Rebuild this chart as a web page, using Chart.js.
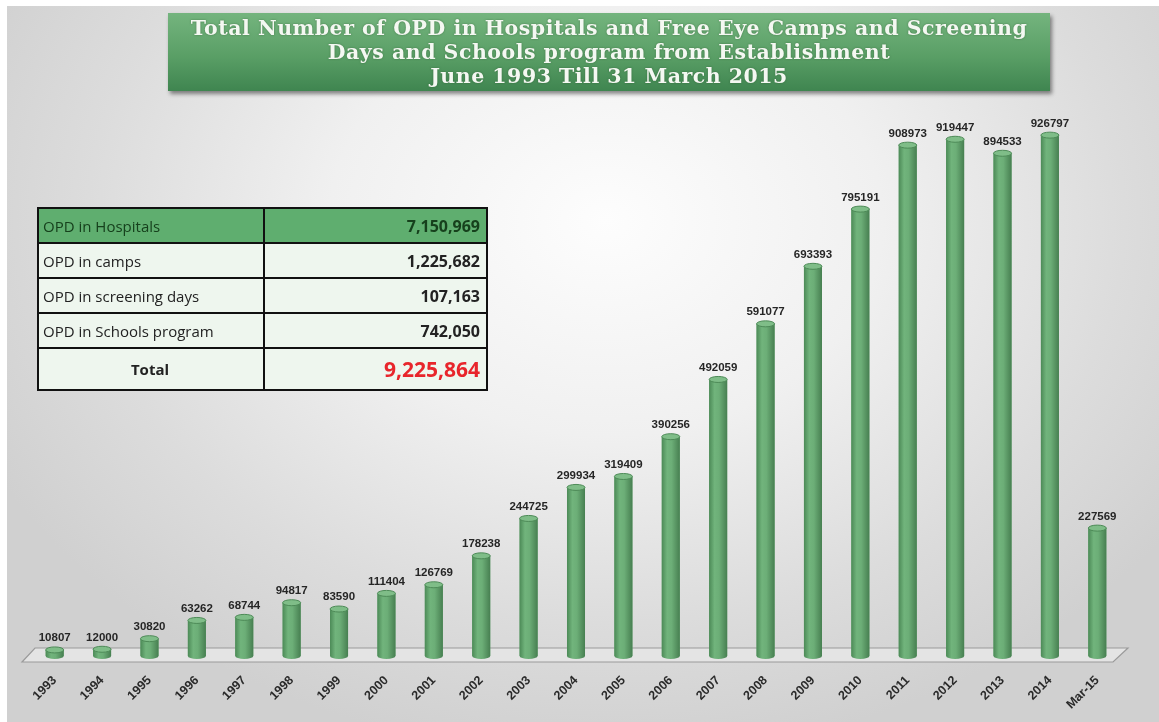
<!DOCTYPE html>
<html>
<head>
<meta charset="utf-8">
<script src="https://cdn.jsdelivr.net/npm/chart.js@4.4.1/dist/chart.umd.min.js"></script>
<style>
  html, body { margin: 0; padding: 0; background: #fff; }
  body { width: 1159px; height: 722px; position: relative; overflow: hidden; }
  #panel {
    position: absolute; left: 7px; top: 6px; right: 0; bottom: 0;
    background: radial-gradient(ellipse 60% 75% at 52% 30%, #fdfdfd 0%, #f0f0f0 40%, #dcdcdc 75%, #d0d0d0 100%);
  }
  #chartBox { position: absolute; left: 0; top: 0; width: 1159px; height: 722px; }
  #titleBox {
    position: absolute; left: 168px; top: 13px; width: 882px; height: 78px;
    background: linear-gradient(to bottom, #74b47e 0%, #5a9f66 55%, #3f8550 100%);
    box-shadow: 2px 3px 4px rgba(0,0,0,0.45);
    color: #f4f8f2; text-align: center;
    font-family: "DejaVu Serif", serif; font-weight: bold; font-size: 20.5px; line-height: 24px;
    letter-spacing: 0.5px;
    padding-top: 3px; box-sizing: border-box; white-space: nowrap;
    text-shadow: 0 0 2px rgba(40,80,40,0.6);
  }
  #summary {
    position: absolute; left: 37px; top: 207px; width: 451px;
    border-collapse: collapse; font-family: "Open Sans", "Liberation Sans", sans-serif;
  }
  #summary td { border: 2px solid #111; padding: 0 6px 0 4px; font-size: 15px; color: #222; background: #eef6ee; height: 33px; }
  #summary td.num { text-align: right; font-weight: bold; font-size: 16px; }
  #summary tr.head td { background: #5fae6f; color: #16401c; }
  #summary tr.total td { height: 40px; font-weight: bold; }
  #summary tr.total td.lbl { text-align: center; }
  #summary tr.total td.num { color: #e8252b; font-size: 21px; }
</style>
</head>
<body>
<div id="panel"></div>
<div id="chartBox"><canvas id="opdChart" width="1159" height="722"></canvas></div>
<div id="titleBox">
  Total Number of OPD in Hospitals and Free Eye Camps and Screening<br>
  Days and Schools program from Establishment<br>
  June 1993 Till 31 March 2015
</div>
<table id="summary"></table>
<script>
// yearly OPD totals
const years = ['1993', '1994', '1995', '1996', '1997', '1998', '1999', '2000', '2001', '2002', '2003',
  '2004', '2005', '2006', '2007', '2008', '2009', '2010', '2011', '2012', '2013', '2014', 'Mar-15'];
const opdCounts = [10807, 12000, 30820, 63262, 68744, 94817, 83590, 111404, 126769, 178238, 244725,
  299934, 319409, 390256, 492059, 591077, 693393, 795191, 908973, 919447, 894533, 926797, 227569];

// summary table
const summaryLabels = ['OPD in Hospitals', 'OPD in camps', 'OPD in screening days', 'OPD in Schools program'];
const summaryValues = [7150969, 1225682, 107163, 742050];
const summaryTotal = 9225864;

const table = document.getElementById('summary');
summaryLabels.forEach(function(lbl, i) {
  const tr = document.createElement('tr');
  if (i === 0) tr.className = 'head';
  tr.innerHTML = '<td style="width:214px">' + lbl + '</td><td class="num">' + summaryValues[i].toLocaleString('en-US') + '</td>';
  table.appendChild(tr);
});
const totalRow = document.createElement('tr');
totalRow.className = 'total';
totalRow.innerHTML = '<td class="lbl">Total</td><td class="num">' + summaryTotal.toLocaleString('en-US') + '</td>';
table.appendChild(totalRow);

// floor slab under the bars
const floorPlugin = {
  id: 'floor',
  beforeDatasetsDraw(chart) {
    const c = chart.ctx, a = chart.chartArea, base = a.bottom;
    c.save();
    c.beginPath();
    c.moveTo(a.left + 4, base - 8);
    c.lineTo(a.right + 7, base - 8);
    c.lineTo(a.right - 8, base + 6);
    c.lineTo(a.left - 9, base + 6);
    c.closePath();
    c.fillStyle = '#e4e4e4';
    c.fill();
    c.strokeStyle = '#9a9a9a';
    c.lineWidth = 1.2;
    c.stroke();
    c.restore();
  }
};

// cylinder shading, caps and value labels
const cylinderPlugin = {
  id: 'cylinder',
  afterDatasetsDraw(chart) {
    const c = chart.ctx;
    const meta = chart.getDatasetMeta(0);
    c.save();
    meta.data.forEach(function(bar, i) {
      const w = bar.width, x0 = bar.x - w / 2, top = bar.y, base = bar.base;
      const g = c.createLinearGradient(x0, 0, x0 + w, 0);
      g.addColorStop(0, '#4c8a57');
      g.addColorStop(0.3, '#71b47c');
      g.addColorStop(0.55, '#6cae77');
      g.addColorStop(1, '#477f51');
      c.fillStyle = g;
      c.beginPath();
      c.moveTo(x0, top);
      c.lineTo(x0, base);
      c.ellipse(bar.x, base, w / 2, 3, 0, Math.PI, 0, true);
      c.lineTo(x0 + w, top);
      c.closePath();
      c.fill();
      c.beginPath();
      c.ellipse(bar.x, top, w / 2, 3, 0, 0, Math.PI * 2);
      c.fillStyle = '#7fbd88';
      c.fill();
      c.strokeStyle = '#4d8a57';
      c.lineWidth = 1;
      c.stroke();

      c.fillStyle = '#262626';
      c.font = 'bold 11.5px "Liberation Sans Narrow", "Liberation Sans", sans-serif';
      c.textAlign = 'center';
      c.textBaseline = 'bottom';
      c.fillText(String(opdCounts[i]), bar.x, top - 6);
    });
    c.restore();
  }
};

new Chart(document.getElementById('opdChart'), {
  type: 'bar',
  data: {
    labels: years,
    datasets: [{
      data: opdCounts,
      backgroundColor: '#62a66d',
      borderWidth: 0,
      categoryPercentage: 1,
      barPercentage: 0.38
    }]
  },
  options: {
    responsive: false,
    animation: false,
    layout: { padding: { left: 31, right: 38, top: 94, bottom: 6 } },
    plugins: { legend: { display: false }, tooltip: { enabled: false } },
    scales: {
      x: {
        grid: { display: false },
        border: { display: false },
        ticks: {
          minRotation: 45, maxRotation: 45, padding: 9,
          color: '#2a2a2a',
          font: { family: '"Liberation Sans", sans-serif', weight: 'bold', size: 12.5 }
        },
        afterFit(axis) { axis.height = 60; }
      },
      y: { display: false, min: 0, max: 1000000 }
    }
  },
  plugins: [floorPlugin, cylinderPlugin]
});
</script>
</body>
</html>
